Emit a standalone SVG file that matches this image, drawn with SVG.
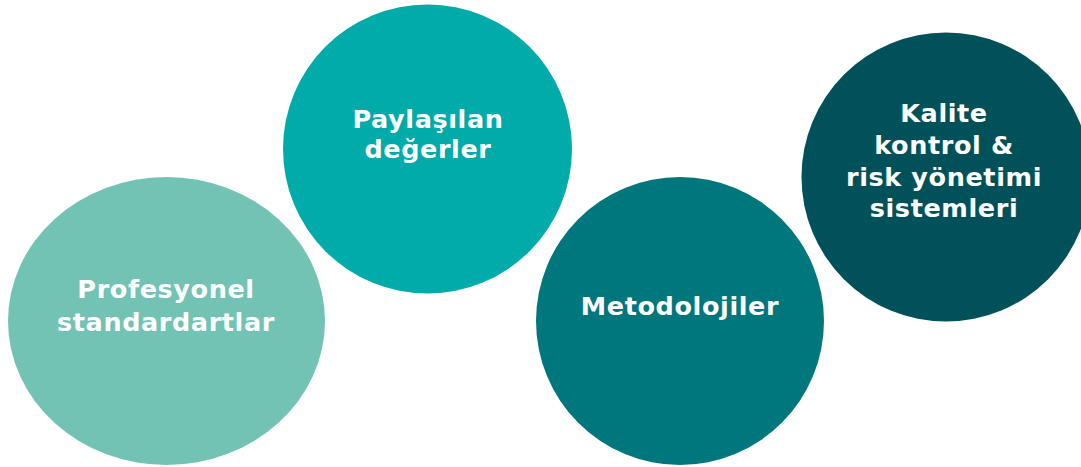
<svg xmlns="http://www.w3.org/2000/svg" width="1081" height="467" viewBox="0 0 1081 467">
<style>
.lbl{font-family:"DejaVu Sans","Liberation Sans",sans-serif;font-weight:bold;font-size:25.5px;letter-spacing:0.6px;fill:#FFFFFF;text-anchor:middle}
</style>
<rect width="1081" height="467" fill="#FFFFFF"/>
<g id="node-profesyonel">
<ellipse cx="166.5" cy="321" rx="158.5" ry="144" fill="#72C3B4"/>
<text class="lbl" x="166" y="298">Profesyonel</text>
<text class="lbl" x="166" y="331">standardartlar</text>
</g>
<g id="node-paylasilan">
<circle cx="427.5" cy="149" r="144.5" fill="#00ABAA"/>
<text class="lbl" x="428" y="128">Paylaşılan</text>
<text class="lbl" x="428" y="158">değerler</text>
</g>
<g id="node-metodolojiler">
<circle cx="680" cy="321" r="144" fill="#00767D"/>
<text class="lbl" x="680" y="315">Metodolojiler</text>
</g>
<g id="node-kalite">
<circle cx="946" cy="177" r="144.5" fill="#005159"/>
<text class="lbl" x="944" y="122">Kalite</text>
<text class="lbl" x="944" y="154">kontrol &amp;</text>
<text class="lbl" x="944" y="186">risk yönetimi</text>
<text class="lbl" x="944" y="217">sistemleri</text>
</g>
<g id="connectors"/>
</svg>
